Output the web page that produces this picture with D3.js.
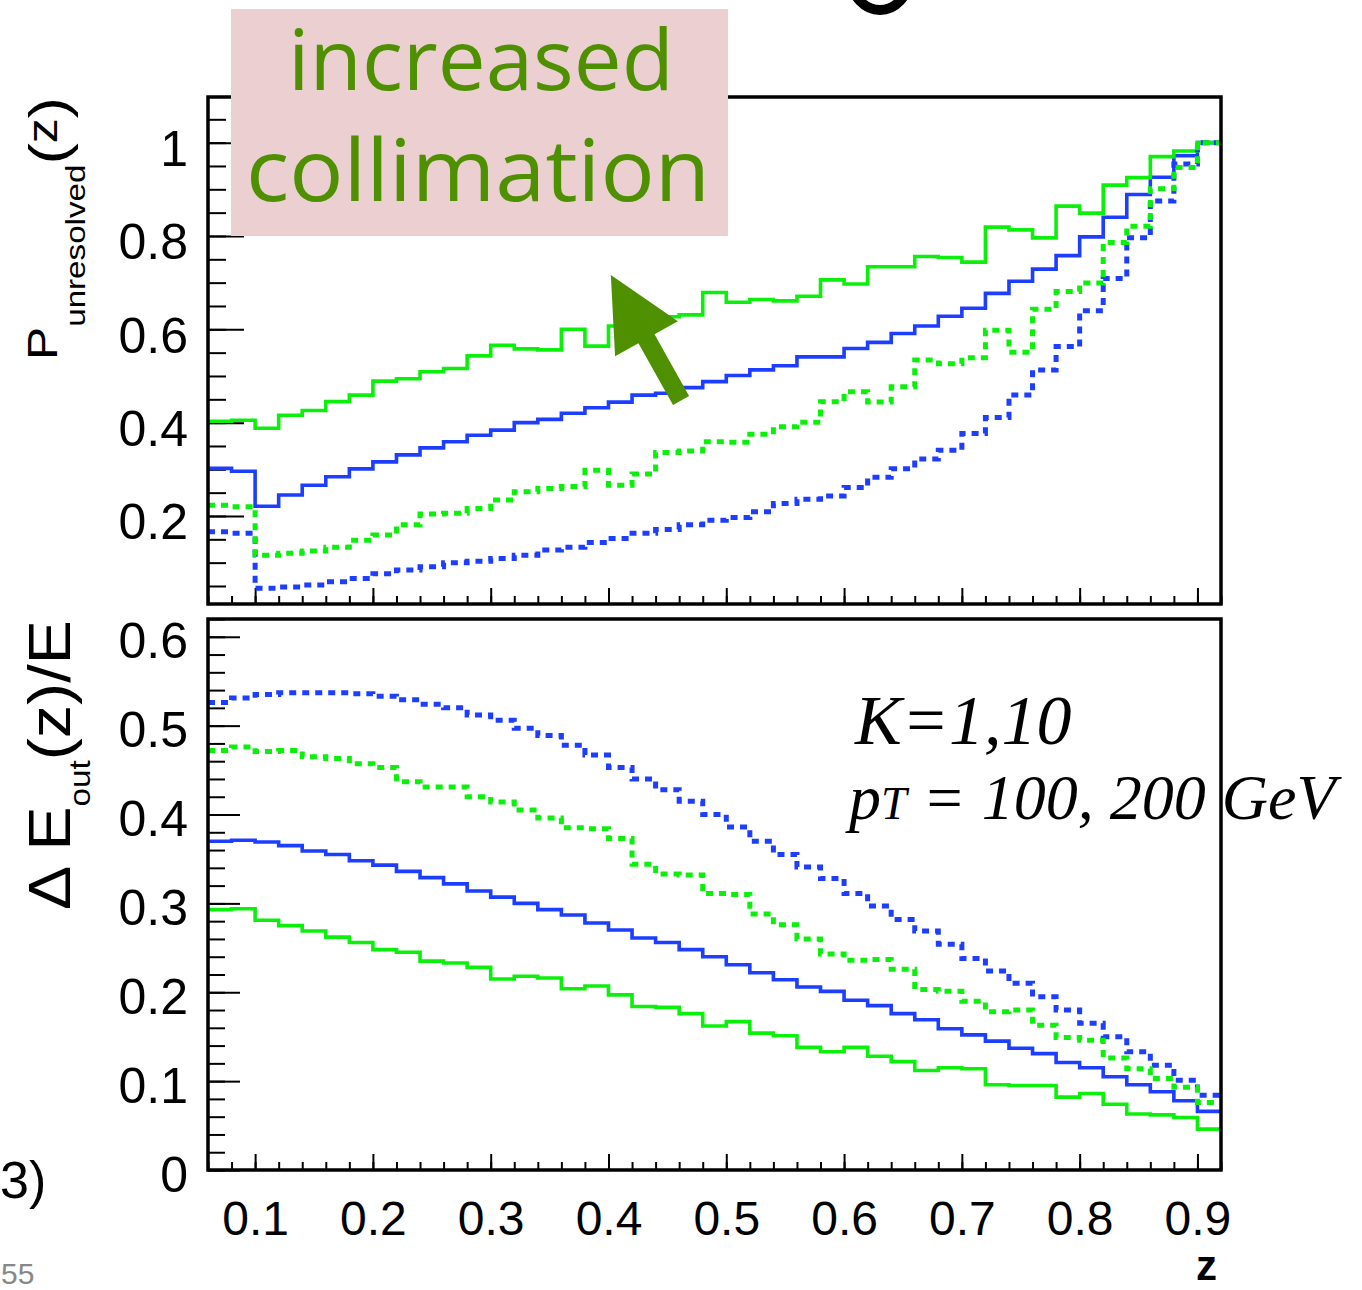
<!DOCTYPE html>
<html><head><meta charset="utf-8">
<script src="https://cdn.jsdelivr.net/npm/d3@7"></script>
<style>html,body{margin:0;padding:0;background:#fff;} svg{display:block;}</style>
</head><body>
<svg id="chart" width="1362" height="1290"></svg>
<script>
// ---- binning / axes ----
const zMin = 0.06, zMax = 0.92, binWidth = 0.02;
const xTickValues = [0.1, 0.2, 0.3, 0.4, 0.5, 0.6, 0.7, 0.8, 0.9];
const xTickLabels = ["0.1", "0.2", "0.3", "0.4", "0.5", "0.6", "0.7", "0.8", "0.9"];
const topTickValues = [0.2, 0.4, 0.6, 0.8, 1.0];
const topTickLabels = ["0.2", "0.4", "0.6", "0.8", "1"];
const botTickValues = [0, 0.1, 0.2, 0.3, 0.4, 0.5, 0.6];
const botTickLabels = ["0", "0.1", "0.2", "0.3", "0.4", "0.5", "0.6"];

// ---- top panel: P_unresolved(z) ----
const pGreenSolid = [0.403,0.405,0.388,0.416,0.426,0.445,0.459,0.489,0.494,0.509,0.516,0.543,0.566,0.558,0.556,0.600,0.564,0.607,0.624,0.627,0.631,0.679,0.658,0.664,0.661,0.671,0.706,0.697,0.734,0.734,0.756,0.754,0.744,0.819,0.813,0.796,0.864,0.849,0.909,0.925,0.970,0.982,1.0];
const pBlueSolid = [0.302,0.296,0.221,0.245,0.266,0.284,0.301,0.316,0.331,0.346,0.359,0.373,0.384,0.400,0.407,0.420,0.432,0.444,0.459,0.463,0.475,0.488,0.501,0.513,0.522,0.541,0.541,0.559,0.572,0.591,0.607,0.628,0.645,0.677,0.703,0.729,0.758,0.798,0.840,0.889,0.926,0.972,1.0];
const pGreenDotted = [0.223,0.220,0.116,0.120,0.125,0.133,0.148,0.159,0.181,0.204,0.206,0.216,0.234,0.252,0.259,0.263,0.298,0.266,0.290,0.336,0.339,0.359,0.358,0.375,0.391,0.401,0.445,0.466,0.444,0.477,0.534,0.526,0.539,0.598,0.551,0.643,0.681,0.699,0.786,0.821,0.901,0.947,1.0];
const pBlueDotted = [0.166,0.163,0.045,0.048,0.052,0.059,0.066,0.076,0.084,0.091,0.100,0.103,0.109,0.116,0.127,0.133,0.143,0.152,0.163,0.171,0.181,0.191,0.197,0.209,0.227,0.236,0.243,0.261,0.283,0.301,0.322,0.341,0.377,0.411,0.459,0.513,0.563,0.640,0.709,0.796,0.875,0.954,1.0];

// ---- bottom panel: Delta E_out(z)/E ----
const eBlueDotted = [0.526,0.531,0.535,0.537,0.537,0.537,0.536,0.533,0.529,0.524,0.520,0.512,0.506,0.497,0.489,0.478,0.467,0.453,0.440,0.428,0.415,0.400,0.386,0.370,0.355,0.341,0.328,0.311,0.297,0.282,0.269,0.254,0.238,0.224,0.210,0.195,0.180,0.165,0.150,0.133,0.118,0.101,0.084];
const eGreenDotted = [0.472,0.476,0.471,0.472,0.465,0.463,0.457,0.453,0.437,0.431,0.431,0.420,0.414,0.405,0.396,0.385,0.384,0.373,0.344,0.333,0.332,0.311,0.310,0.288,0.276,0.260,0.243,0.236,0.237,0.226,0.203,0.201,0.190,0.178,0.180,0.163,0.149,0.146,0.126,0.114,0.103,0.093,0.076];
const eBlueSolid = [0.370,0.371,0.369,0.365,0.359,0.355,0.348,0.343,0.336,0.329,0.322,0.314,0.307,0.300,0.293,0.287,0.278,0.270,0.261,0.256,0.248,0.240,0.231,0.222,0.214,0.206,0.201,0.191,0.185,0.176,0.169,0.159,0.152,0.145,0.137,0.131,0.121,0.115,0.105,0.096,0.088,0.078,0.066];
const eGreenSolid = [0.293,0.294,0.281,0.275,0.269,0.262,0.256,0.248,0.245,0.235,0.233,0.228,0.215,0.218,0.216,0.204,0.207,0.197,0.184,0.183,0.176,0.162,0.167,0.154,0.151,0.138,0.133,0.138,0.128,0.122,0.112,0.115,0.114,0.096,0.095,0.095,0.082,0.086,0.074,0.063,0.062,0.059,0.046];

// annotation arrow (data coords of top panel: z, P)
const arrowTail = [0.4616, 0.4474];
const arrowTip = [0.402, 0.7164];

const GREEN = "#0af00a", BLUE = "#1d3dff", DARKGREEN = "#4f9000";
const SANS = "'Liberation Sans', Arial, Helvetica, sans-serif";

const svg = d3.select("#chart");
const x = d3.scaleLinear([zMin, zMax], [208, 1221]);
const yTop = d3.scaleLinear([0.0114, 1.0978], [604, 97]);
const yBot = d3.scaleLinear([0, 0.62], [1170, 619]);

function stepPoints(vals) {
  const pts = vals.map((v, i) => [zMin + i * binWidth, v]);
  pts.push([zMin + vals.length * binWidth, vals[vals.length - 1]]);
  return pts;
}
function drawHist(yScale, vals, color, dotted) {
  const line = d3.line().x(d => x(d[0])).y(d => yScale(d[1])).curve(d3.curveStepAfter);
  svg.append("path").attr("d", line(stepPoints(vals)))
    .attr("fill", "none").attr("stroke", color)
    .attr("stroke-width", dotted ? 5 : 3.6)
    .attr("stroke-dasharray", dotted ? "7,6" : null)
    .attr("stroke-linejoin", "miter");
}

// ---- axes ----
function styleAxis(g) {
  g.select(".domain").remove();
  g.selectAll(".tick line").attr("stroke", "#000").attr("stroke-width", 2);
  g.selectAll("text").attr("font-family", SANS).attr("fill", "#000");
}
const minorTop = d3.range(0, 23).map(i => 0.05 * i).filter(v => v > 0.0114 && v < 1.0978);
const minorBot = d3.range(0, 32).map(i => +(0.02 * i).toFixed(2)).filter(v => v <= 0.62);
const minorX = d3.range(0, 44).map(i => zMin + i * binWidth);

// top panel y
svg.append("g").attr("transform", "translate(208,0)")
  .call(d3.axisLeft(yTop).tickValues(minorTop).tickSize(-18).tickFormat(""))
  .call(styleAxis);
svg.append("g").attr("transform", "translate(208,0)")
  .call(d3.axisLeft(yTop).tickValues(topTickValues).tickFormat((d, i) => topTickLabels[i]).tickSize(-36).tickPadding(20))
  .call(styleAxis)
  .call(g => g.selectAll("text").attr("font-size", 50).attr("dy", "0.46em"));
// top panel x (no labels)
svg.append("g").attr("transform", "translate(0,604)")
  .call(d3.axisBottom(x).tickValues(minorX).tickSize(-8).tickFormat(""))
  .call(styleAxis);
svg.append("g").attr("transform", "translate(0,604)")
  .call(d3.axisBottom(x).tickValues(xTickValues).tickSize(-16).tickFormat(""))
  .call(styleAxis);

// bottom panel y
svg.append("g").attr("transform", "translate(208,0)")
  .call(d3.axisLeft(yBot).tickValues(minorBot).tickSize(-17).tickFormat(""))
  .call(styleAxis);
svg.append("g").attr("transform", "translate(208,0)")
  .call(d3.axisLeft(yBot).tickValues(botTickValues).tickFormat((d, i) => botTickLabels[i]).tickSize(-32).tickPadding(20))
  .call(styleAxis)
  .call(g => g.selectAll("text").attr("font-size", 50).attr("dy", "0.42em"));
// bottom panel x
svg.append("g").attr("transform", "translate(0,1170)")
  .call(d3.axisBottom(x).tickValues(minorX).tickSize(-8).tickFormat(""))
  .call(styleAxis);
svg.append("g").attr("transform", "translate(0,1170)")
  .call(d3.axisBottom(x).tickValues(xTickValues).tickFormat((d, i) => xTickLabels[i]).tickSize(-16).tickPadding(31))
  .call(styleAxis)
  .call(g => g.selectAll("text").attr("font-size", 48));

// ---- histograms ----
drawHist(yTop, pBlueSolid, BLUE, false);
drawHist(yTop, pGreenSolid, GREEN, false);
drawHist(yTop, pBlueDotted, BLUE, true);
drawHist(yTop, pGreenDotted, GREEN, true);
drawHist(yBot, eBlueSolid, BLUE, false);
drawHist(yBot, eGreenSolid, GREEN, false);
drawHist(yBot, eBlueDotted, BLUE, true);
drawHist(yBot, eGreenDotted, GREEN, true);

// ---- frames ----
svg.append("rect").attr("x", x(zMin)).attr("y", yTop.range()[1]).attr("width", x(zMax) - x(zMin))
  .attr("height", yTop.range()[0] - yTop.range()[1]).attr("fill", "none").attr("stroke", "#000").attr("stroke-width", 3.5);
svg.append("rect").attr("x", x(zMin)).attr("y", yBot.range()[1]).attr("width", x(zMax) - x(zMin))
  .attr("height", yBot.range()[0] - yBot.range()[1]).attr("fill", "none").attr("stroke", "#000").attr("stroke-width", 3.5);

// ---- axis titles ----
function rotatedTitle(px, py, targetLen, build) {
  const g = svg.append("g").attr("transform", `translate(${px},${py}) rotate(-90)`);
  const t = g.append("text").attr("font-family", SANS).attr("fill", "#000");
  build(t);
  const w = t.node().getBBox().width || targetLen;
  t.attr("transform", `scale(${targetLen / w},1)`);
}
rotatedTitle(57, 360, 263, t => {
  t.append("tspan").attr("font-size", 42).text("P");
  t.append("tspan").attr("font-size", 28).attr("dy", 28).text("unresolved");
  t.append("tspan").attr("font-size", 54).attr("dy", -18.5).text("(");
  t.append("tspan").attr("font-size", 42).attr("dy", -9.5).text("z");
  t.append("tspan").attr("font-size", 54).attr("dy", 9.5).text(")");
});
rotatedTitle(70, 910, 290, t => {
  t.append("tspan").attr("font-size", 60).text("\u0394 E");
  t.append("tspan").attr("font-size", 30).attr("dy", 20).text("out");
  t.append("tspan").attr("font-size", 60).attr("dy", -20).text("(z)/E");
});
svg.append("text").attr("x", 1217).attr("y", 1280).attr("text-anchor", "end")
  .attr("font-family", SANS).attr("font-weight", "bold").attr("font-size", 42).text("z");

// ---- legend-like text ----
const SERIF = "'Liberation Serif', 'Times New Roman', serif";
svg.append("text").attr("x", 855).attr("y", 744).attr("font-family", SERIF)
  .attr("font-style", "italic").attr("font-size", 70).text("K=1,10");
const pt = svg.append("text").attr("x", 849).attr("y", 819).attr("font-family", SERIF)
  .attr("font-style", "italic").attr("font-size", 64);
pt.append("tspan").text("p");
pt.append("tspan").attr("font-size", 46).text("T");
pt.append("tspan").text(" = 100, 200 GeV");

// ---- annotation box + arrow ----
const ANN = "'Open Sans', 'DejaVu Sans', sans-serif";
svg.append("rect").attr("x", 231).attr("y", 9).attr("width", 497).attr("height", 227).attr("fill", "#ecd0d1");
svg.append("text").attr("x", 288).attr("y", 90)
  .attr("font-family", ANN).attr("font-size", 84).attr("fill", DARKGREEN)
  .attr("textLength", 386).attr("lengthAdjust", "spacingAndGlyphs").text("increased");
svg.append("text").attr("x", 246).attr("y", 201)
  .attr("font-family", ANN).attr("font-size", 86).attr("fill", DARKGREEN)
  .attr("textLength", 464).attr("lengthAdjust", "spacingAndGlyphs").text("collimation");

(function () {
  const tail = [x(arrowTail[0]), yTop(arrowTail[1])];
  const tip = [x(arrowTip[0]), yTop(arrowTip[1])];
  const dx = tip[0] - tail[0], dy = tip[1] - tail[1];
  const L = Math.hypot(dx, dy);
  const u = [dx / L, dy / L], n = [-u[1], u[0]];
  const headLen = 73, headHalf = 36, shaftHalf = 9.2;
  const base = [tip[0] - u[0] * headLen, tip[1] - u[1] * headLen];
  const P = (p, k) => [p[0] + n[0] * k, p[1] + n[1] * k];
  const pts = [P(tail, shaftHalf), P(base, shaftHalf), P(base, headHalf), tip,
    P(base, -headHalf), P(base, -shaftHalf), P(tail, -shaftHalf)];
  svg.append("polygon").attr("points", pts.map(p => p.join(",")).join(" ")).attr("fill", DARKGREEN);
})();

// ---- fragments at the edges of the slide ----
svg.append("ellipse").attr("cx", 880).attr("cy", -20).attr("rx", 28).attr("ry", 30)
  .attr("fill", "none").attr("stroke", "#000").attr("stroke-width", 10);
svg.append("text").attr("x", 0).attr("y", 1198).attr("font-family", SANS).attr("font-size", 52).text("3)");
svg.append("text").attr("x", 1).attr("y", 1284)
  .attr("font-family", SANS).attr("font-size", 30).attr("fill", "#888").text("55");
</script>
</body></html>
